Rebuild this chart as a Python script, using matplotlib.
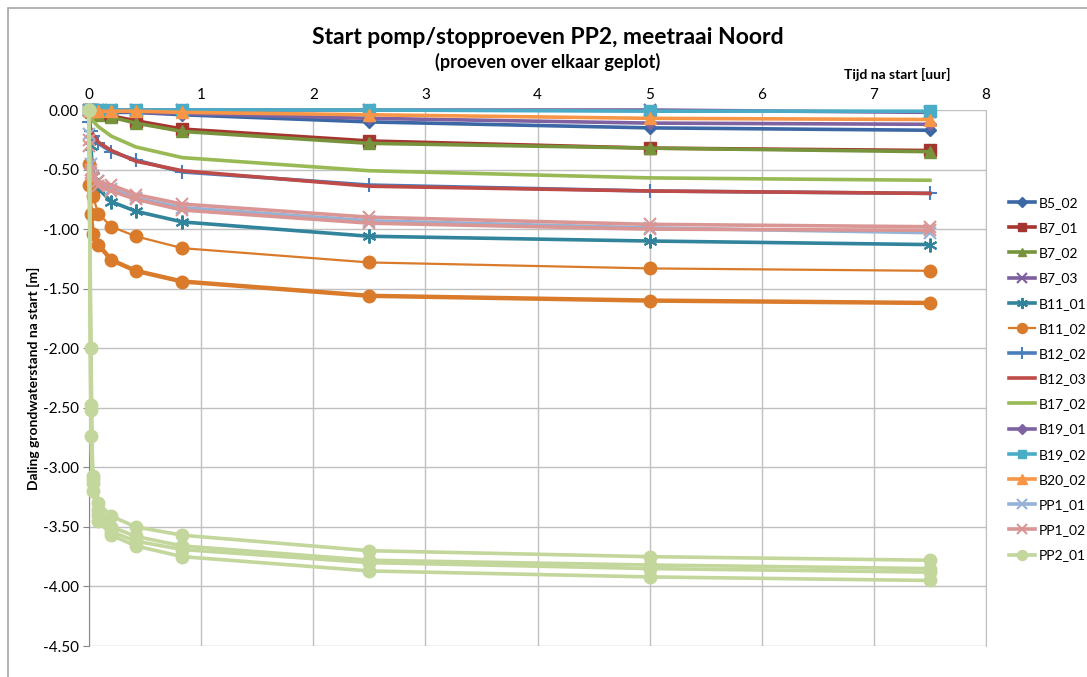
import numpy as np
import matplotlib.pyplot as plt
from matplotlib.patches import Rectangle

plt.rcParams['font.family'] = ['Lato', 'DejaVu Sans']

# tijd na start [uur]
T = [0, 0.017, 0.033, 0.083, 0.2, 0.417, 0.833, 2.5, 5.0, 7.5]

# daling grondwaterstand [m], per peilbuis een of meer proeven
b5_02 = [[0, -0.01, -0.01, -0.01, -0.02, -0.02, -0.04, -0.10, -0.15, -0.17]]
b7_01 = [[0, -0.01, -0.02, -0.03, -0.05, -0.09, -0.16, -0.26, -0.32, -0.34]]
b7_02 = [[0, -0.02, -0.03, -0.04, -0.06, -0.11, -0.18, -0.28, -0.32, -0.35]]
b7_03 = [[0, 0.00, 0.00, 0.00, 0.00, 0.00, 0.00, 0.00, 0.00, -0.02]]
b11_01 = [[0, -0.30, -0.55, -0.66, -0.77, -0.85, -0.94, -1.06, -1.10, -1.13]]
b11_02 = [[-0.45, -0.62, -0.72, -0.87, -0.98, -1.06, -1.16, -1.28, -1.33, -1.35],
          [-0.63, -0.87, -1.04, -1.13, -1.26, -1.35, -1.44, -1.56, -1.60, -1.62]]
b12_02 = [[-0.10, -0.18, -0.22, -0.28, -0.35, -0.42, -0.52, -0.63, -0.68, -0.70]]
b12_03 = [[-0.12, -0.16, -0.20, -0.27, -0.34, -0.43, -0.51, -0.64, -0.68, -0.70]]
b17_02 = [[0, -0.05, -0.09, -0.14, -0.22, -0.31, -0.40, -0.51, -0.57, -0.59]]
b19_01 = [[0, -0.01, -0.01, -0.01, -0.01, -0.02, -0.03, -0.07, -0.11, -0.12]]
b19_02 = [[0, 0.00, 0.00, 0.00, 0.00, 0.00, 0.00, 0.00, -0.01, -0.01]]
b20_02 = [[0, -0.01, -0.01, -0.01, -0.01, -0.01, -0.02, -0.04, -0.07, -0.08]]
pp1_01 = [[-0.20, -0.45, -0.55, -0.60, -0.66, -0.74, -0.82, -0.93, -0.99, -1.03]]
pp1_02 = [[-0.25, -0.50, -0.55, -0.60, -0.63, -0.71, -0.79, -0.90, -0.96, -0.98],
          [-0.30, -0.53, -0.58, -0.64, -0.68, -0.75, -0.84, -0.95, -1.00, -1.01]]
pp2_01 = [[0, -2.00, -3.07, -3.30, -3.41, -3.50, -3.57, -3.70, -3.75, -3.78],
          [0, -2.48, -3.10, -3.36, -3.50, -3.58, -3.66, -3.78, -3.82, -3.85],
          [0, -2.52, -3.13, -3.40, -3.54, -3.62, -3.69, -3.80, -3.85, -3.88],
          [0, -2.74, -3.20, -3.45, -3.57, -3.66, -3.75, -3.87, -3.92, -3.95]]

names = ['B5_02', 'B7_01', 'B7_02', 'B7_03', 'B11_01', 'B11_02', 'B12_02',
         'B12_03', 'B17_02', 'B19_01', 'B19_02', 'B20_02', 'PP1_01', 'PP1_02', 'PP2_01']
series = [b5_02, b7_01, b7_02, b7_03, b11_01, b11_02, b12_02,
          b12_03, b17_02, b19_01, b19_02, b20_02, pp1_01, pp1_02, pp2_01]

colors = ['#3C67A5', '#A5352F', '#77933C', '#7D5FA0', '#31849B', '#D97B2B', '#4A7EBB',
          '#BE4B48', '#98B954', '#7E62A1', '#4BACC6', '#F79646', '#95B3D7', '#D99694', '#C3D69B']
markers = ['D', 's', '^', 'x', (6, 2, 0), 'o', '+',
           None, None, 'D', 's', '^', 'x', 'x', 'o']
msizes = [6, 8, 8, 9, 10, 9, 10, 0, 0, 6, 8, 9, 9, 9, 9]

fig = plt.figure(figsize=(10.87, 6.77), dpi=100)
ax = fig.add_axes([89 / 1087, 1 - 646 / 677, (986 - 89) / 1087, (646 - 110) / 677])

for name, data, c, m, ms in zip(names, series, colors, markers, msizes):
    for i, vals in enumerate(data):
        lw = 2.6
        if name == 'B11_02':
            lw = 1.6 if i == 0 else 3.2
        ax.plot(T, vals, color=c, marker=m, markersize=ms, linewidth=lw,
                markeredgewidth=1.5 if m in ('x', '+', (6, 2, 0)) else 1,
                label=name if i == 0 else None, clip_on=False, zorder=3)

ax.set_xlim(0, 8)
ax.set_ylim(-4.5, 0)
ax.set_xticks(range(0, 9))
ax.set_yticks(np.arange(-4.5, 0.01, 0.5))
ax.yaxis.set_major_formatter(plt.FuncFormatter(lambda v, p: f'{v:.2f}'.replace('-0.00', '0.00')))
ax.xaxis.tick_top()
ax.tick_params(axis='x', length=0, labelsize=11, pad=6)
ax.tick_params(axis='y', length=4, direction='out', labelsize=11, color='#868686')
ax.grid(True, color='#C0C0C0', linewidth=1)
ax.set_axisbelow(True)
for s in ['bottom', 'top']:
    ax.spines[s].set_visible(False)
ax.spines['left'].set_color('#868686')
ax.spines['right'].set_color('#BFBFBF')

ax.set_ylabel('Daling grondwaterstand na start [m]', fontsize=10, fontweight='bold', labelpad=2)
fig.text(950 / 1087, 1 - 74 / 677, 'Tijd na start [uur]', fontsize=10, fontweight='bold',
         ha='right', va='center')

fig.text(0.504, 1 - 37 / 677, 'Start pomp/stopproeven PP2, meetraai Noord',
         fontsize=16.5, fontweight='bold', ha='center', va='center')
fig.text(0.504, 1 - 62 / 677, '(proeven over elkaar geplot)',
         fontsize=13, fontweight='bold', ha='center', va='center')

fig.legend(loc='upper left', bbox_to_anchor=(1006 / 1087, 1 - 194 / 677), frameon=False,
           fontsize=10, handlelength=1.9, labelspacing=0.95, handletextpad=0.25,
           borderaxespad=0, borderpad=0.2, markerscale=0.8)

fig.patches.append(Rectangle((8 / 1087, -0.01), 1.1, 1 - 8 / 677 + 0.01,
                             transform=fig.transFigure, fill=False,
                             edgecolor='#A6A6A6', linewidth=1.2))

fig.savefig('out.png', dpi=100)
